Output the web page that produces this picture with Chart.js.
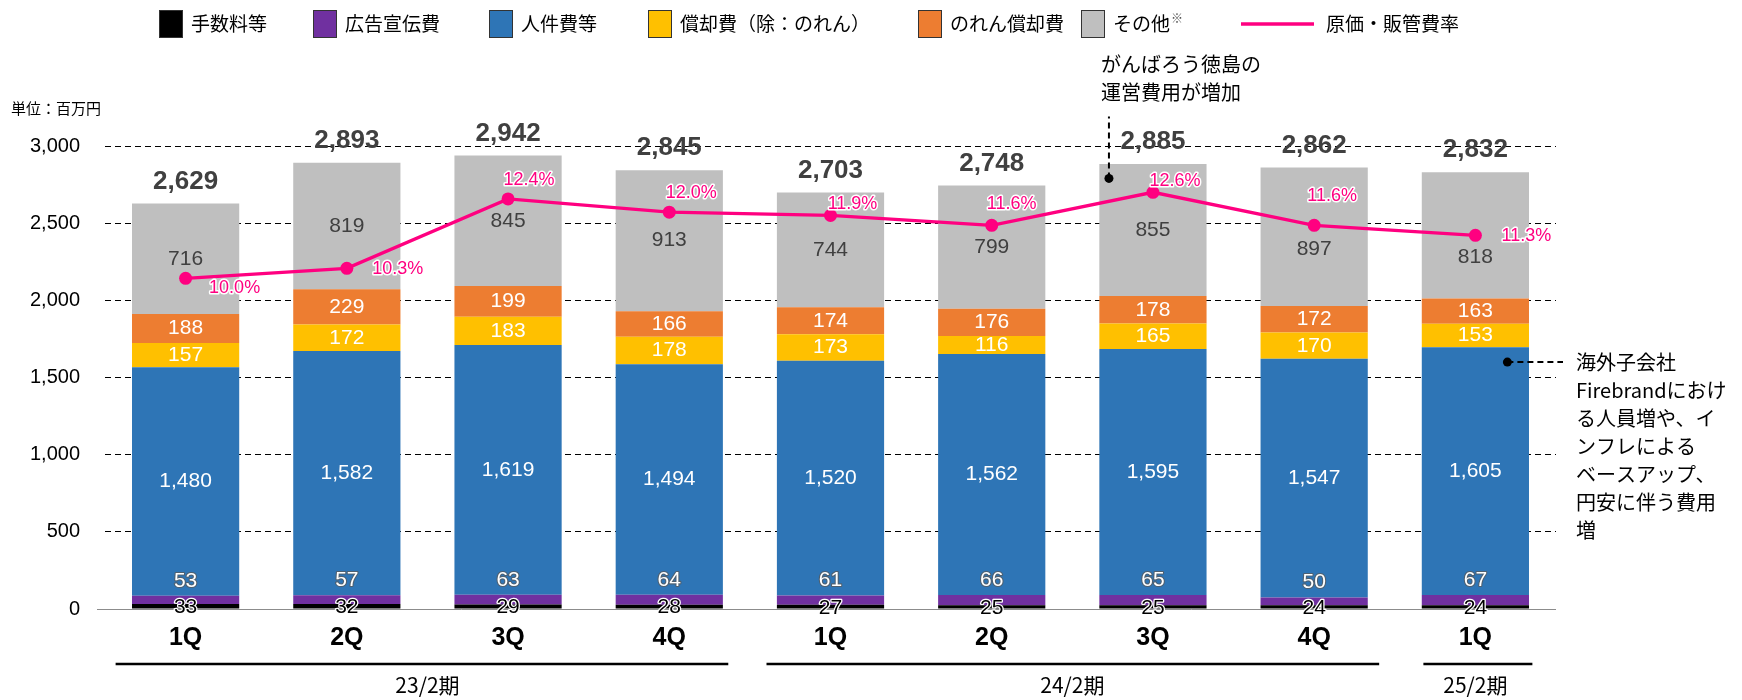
<!DOCTYPE html>
<html>
<head>
<meta charset="utf-8">
<script src="https://cdn.jsdelivr.net/npm/chart.js@4.4.1/dist/chart.umd.min.js"></script>
<style>
  html, body { margin: 0; padding: 0; background: #fff; }
  #wrap { width: 1742px; height: 700px; }
</style>
</head>
<body>
<div id="wrap"><canvas id="chart" width="1742" height="700"></canvas></div>
<script>
// values, unit: million yen
const quarters = ['1Q', '2Q', '3Q', '4Q', '1Q', '2Q', '3Q', '4Q', '1Q']
const fees = [33, 32, 29, 28, 27, 25, 25, 24, 24]
const ads = [53, 57, 63, 64, 61, 66, 65, 50, 67]
const personnel = [1480, 1582, 1619, 1494, 1520, 1562, 1595, 1547, 1605]
const depreciation = [157, 172, 183, 178, 173, 116, 165, 170, 153]
const goodwill = [188, 229, 199, 166, 174, 176, 178, 172, 163]
const others = [716, 819, 845, 913, 744, 799, 855, 897, 818]
const totals = [2629, 2893, 2942, 2845, 2703, 2748, 2885, 2862, 2832]
const costRatio = [10.0, 10.3, 12.4, 12.0, 11.9, 11.6, 12.6, 11.6, 11.3]
const periodNames = ['23/2期', '24/2期', '25/2期']
const periodStart = [0, 4, 8]
const periodEnd = [3, 7, 8]

const NUM = '"Liberation Sans", Arial, sans-serif'
const JP = '"Noto Sans CJK JP", "Noto Sans", sans-serif'
const PINK = '#FF0080'

function outlined(ctx, text, x, y, fill, stroke, w) {
  ctx.lineJoin = 'round'
  ctx.strokeStyle = stroke
  ctx.lineWidth = w
  ctx.strokeText(text, x, y)
  ctx.fillStyle = fill
  ctx.fillText(text, x, y)
}

function fmt(v) {
  return v.toLocaleString('en-US')
}

// bars: label colour and where the number sits
const barSets = [
  { label: '手数料等', data: fees, color: '#000000', lab: { fill: '#000', stroke: '#fff', pos: 'top' } },
  { label: '広告宣伝費', data: ads, color: '#7030A0', lab: { fill: '#fff', stroke: '#4f6070', pos: 'above' } },
  { label: '人件費等', data: personnel, color: '#2E75B6', lab: { fill: '#fff', pos: 'center' } },
  { label: '償却費（除：のれん）', data: depreciation, color: '#FFC000', lab: { fill: '#fff', pos: 'center' } },
  { label: 'のれん償却費', data: goodwill, color: '#ED7D31', lab: { fill: '#fff', pos: 'center' } },
  { label: 'その他', data: others, color: '#BFBFBF', lab: { fill: '#404040', pos: 'center' }, mark: '※' }
]

const datasets = barSets.map(s => ({
  type: 'bar',
  label: s.label,
  data: s.data,
  backgroundColor: s.color,
  borderWidth: 0,
  stack: 'cost',
  order: 1,
  barPercentage: 0.665,
  categoryPercentage: 1,
  lab: s.lab
}))

datasets.push({
  type: 'line',
  label: '原価・販管費率',
  data: costRatio,
  yAxisID: 'y2',
  borderColor: PINK,
  backgroundColor: PINK,
  borderWidth: 3.3,
  pointRadius: 6.5,
  pointBackgroundColor: PINK,
  pointBorderWidth: 0,
  order: 0
})

// nudges so labels keep clear of the line
const ratioOffsets = [[49, 10], [51, 1], [21, -19], [22, -19], [22, -11], [20, -21], [22, -11], [18, -29], [51, 1]]
const otherShift = [0, 0, 0, 0, 0, 0, 0, 12, 22]
const legendX = [159, 313, 489, 648, 918, 1081, 1241]

const labelsPlugin = {
  id: 'labels',
  beforeDatasetsDraw(chart) {
    const { ctx, chartArea, scales } = chart
    // solid baseline at zero
    const y0 = scales.y.getPixelForValue(0)
    ctx.save()
    ctx.strokeStyle = '#8c8c8c'
    ctx.lineWidth = 1
    ctx.beginPath()
    ctx.moveTo(chartArea.left - 8, y0 + 0.5)
    ctx.lineTo(chartArea.right, y0 + 0.5)
    ctx.stroke()
    ctx.restore()
  },
  afterDatasetsDraw(chart) {
    const { ctx } = chart
    ctx.save()
    ctx.textAlign = 'center'
    ctx.textBaseline = 'middle'
    chart.data.datasets.forEach((ds, i) => {
      if (!ds.lab) return
      const meta = chart.getDatasetMeta(i)
      meta.data.forEach((bar, j) => {
        const txt = fmt(ds.data[j])
        ctx.font = `21px ${NUM}`
        if (ds.lab.pos === 'center') {
          const shift = i === barSets.length - 1 ? otherShift[j] : 0
          ctx.fillStyle = ds.lab.fill
          ctx.fillText(txt, bar.x, (bar.y + bar.base) / 2 + shift)
        } else if (ds.lab.pos === 'above') {
          outlined(ctx, txt, bar.x, bar.y - 15, ds.lab.fill, ds.lab.stroke, 2.2)
        } else {
          outlined(ctx, txt, bar.x, bar.y + 3, ds.lab.fill, ds.lab.stroke, 2.5)
        }
      })
    })
    // totals above each bar
    const top = chart.getDatasetMeta(barSets.length - 1)
    ctx.font = `bold 26px ${NUM}`
    ctx.fillStyle = '#404040'
    top.data.forEach((bar, j) => {
      ctx.fillText(fmt(totals[j]), bar.x, bar.y - 22)
    })
    // ratio labels
    const line = chart.getDatasetMeta(barSets.length)
    ctx.font = `18px ${NUM}`
    line.data.forEach((pt, j) => {
      const o = ratioOffsets[j]
      outlined(ctx, costRatio[j].toFixed(1) + '%', pt.x + o[0], pt.y + o[1], PINK, '#fff', 3)
    })
    ctx.restore()
  },
  afterDraw(chart) {
    const { ctx, scales, chartArea } = chart
    const x = scales.x
    const y = scales.y
    ctx.save()

    // legend
    const ly = 24
    ctx.textBaseline = 'middle'
    ctx.textAlign = 'left'
    barSets.forEach((s, k) => {
      const lx = legendX[k]
      ctx.fillStyle = s.color
      ctx.fillRect(lx, ly - 14, 24, 28)
      ctx.strokeStyle = '#333'
      ctx.lineWidth = 1
      ctx.strokeRect(lx + 0.5, ly - 13.5, 23, 27)
      ctx.fillStyle = '#000'
      ctx.font = `19px ${JP}`
      ctx.fillText(s.label, lx + 32, ly)
      if (s.mark) {
        const w = ctx.measureText(s.label).width
        ctx.font = `12px ${JP}`
        ctx.fillStyle = '#555'
        ctx.fillText(s.mark, lx + 33 + w, ly - 6)
      }
    })
    const lineX = legendX[barSets.length]
    ctx.strokeStyle = PINK
    ctx.lineWidth = 3.3
    ctx.beginPath()
    ctx.moveTo(lineX, ly)
    ctx.lineTo(lineX + 73, ly)
    ctx.stroke()
    ctx.fillStyle = '#000'
    ctx.font = `19px ${JP}`
    ctx.fillText('原価・販管費率', lineX + 85, ly)

    // unit
    ctx.font = `15px ${JP}`
    ctx.fillStyle = '#000'
    ctx.fillText('単位：百万円', 11, 108)

    // fiscal period brackets under the quarters
    ctx.strokeStyle = '#000'
    ctx.lineWidth = 2.5
    ctx.textAlign = 'center'
    ctx.font = `21px ${JP}`
    const padL = [70, 64, 52]
    const padR = [59, 65, 57]
    periodNames.forEach((name, k) => {
      const a = x.getPixelForValue(periodStart[k])
      const b = x.getPixelForValue(periodEnd[k])
      ctx.beginPath()
      ctx.moveTo(a - padL[k], 664)
      ctx.lineTo(b + padR[k], 664)
      ctx.stroke()
      ctx.fillStyle = '#000'
      ctx.fillText(name, (a + b) / 2, 685)
    })

    // note above 24/2 3Q
    ctx.font = `20px ${JP}`
    ctx.textAlign = 'left'
    const ax = x.getPixelForValue(6) - 44
    const ay = y.getPixelForValue(2790)
    ctx.fillStyle = '#000'
    ctx.beginPath()
    ctx.arc(ax, ay, 4.5, 0, Math.PI * 2)
    ctx.fill()
    ctx.setLineDash([6, 4])
    ctx.lineWidth = 2
    ctx.beginPath()
    ctx.moveTo(ax, ay)
    ctx.lineTo(ax, ay - 62)
    ctx.stroke()
    ctx.setLineDash([])
    ctx.fillText('がんばろう徳島の', ax - 8, ay - 114)
    ctx.fillText('運営費用が増加', ax - 8, ay - 86)

    // note beside 25/2 1Q
    const bx = x.getPixelForValue(8) + 32
    const by = y.getPixelForValue(1600)
    ctx.beginPath()
    ctx.arc(bx, by, 4.5, 0, Math.PI * 2)
    ctx.fill()
    ctx.setLineDash([6, 4])
    ctx.beginPath()
    ctx.moveTo(bx, by)
    ctx.lineTo(chartArea.right + 7, by)
    ctx.stroke()
    ctx.setLineDash([])
    const note = ['海外子会社', 'Firebrandにおけ', 'る人員増や、イ', 'ンフレによる', 'ベースアップ、', '円安に伴う費用', '増']
    note.forEach((t, k) => ctx.fillText(t, chartArea.right + 20, by + k * 28))
    ctx.restore()
  }
}

new Chart(document.getElementById('chart'), {
  data: { labels: quarters, datasets: datasets },
  options: {
    responsive: false,
    animation: false,
    layout: { padding: { top: 146, right: 186, left: 0, bottom: 0 } },
    plugins: { legend: { display: false }, tooltip: { enabled: false } },
    scales: {
      x: {
        stacked: true,
        grid: { display: false },
        border: { display: false },
        ticks: { font: { family: '"Liberation Sans Narrow", ' + NUM, size: 25, weight: 'bold' }, color: '#000', padding: 6 },
        afterFit: s => { s.height = 91 }
      },
      y: {
        stacked: true,
        min: 0,
        max: 3000,
        ticks: { stepSize: 500, font: { family: NUM, size: 20 }, color: '#000', padding: 25, callback: v => fmt(v) },
        grid: { color: c => c.tick && c.tick.value === 0 ? 'rgba(0,0,0,0)' : '#000', lineWidth: 1, drawTicks: false },
        border: { display: false, dash: [6, 4] },
        afterFit: s => { s.width = 105 }
      },
      y2: { display: false, min: 0, max: 14 }
    }
  },
  plugins: [labelsPlugin]
})
</script>
</body>
</html>
